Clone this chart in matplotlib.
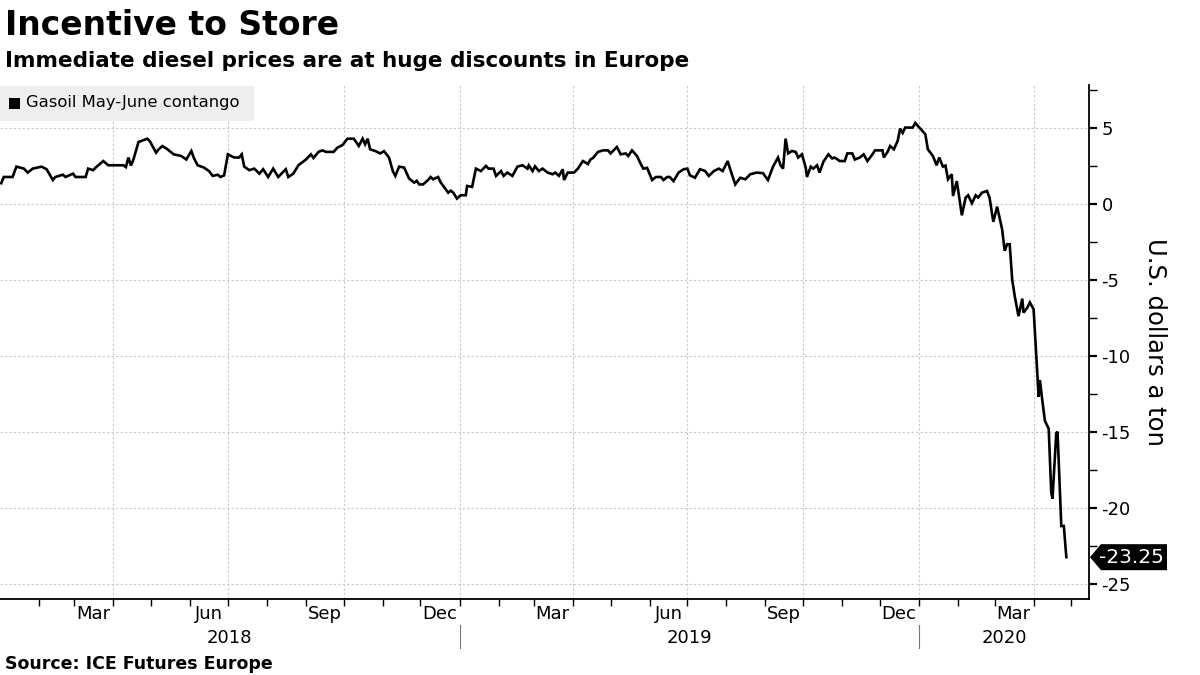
import numpy as np
import pandas as pd
import matplotlib
matplotlib.use("Agg")
import matplotlib.pyplot as plt
from matplotlib.patches import Rectangle, Polygon
from matplotlib.lines import Line2D

plt.rcParams["font.family"] = ["DejaVu Sans"]
plt.rcParams["axes.unicode_minus"] = False

# Gasoil May-June spread (days since 2018-01-01, $/ton)
start = pd.Timestamp("2018-01-01")
days = [1, 3, 10, 13, 19, 22, 26, 33, 37, 42, 44, 50, 52, 58, 60, 68, 70, 74, 76, 82,
        86, 98, 100, 102, 104, 106, 110, 117, 119, 124, 126, 129, 133, 138, 144, 148, 152, 154, 157, 162,
        166, 169, 173, 175, 178, 181, 186, 190, 192, 194, 198, 202, 206, 209, 213, 217, 221, 227, 229, 233,
        237, 243, 247, 249, 253, 256, 259, 265, 268, 272, 276, 281, 285, 288, 290, 292, 294, 298, 302, 305,
        309, 312, 314, 317, 321, 325, 329, 331, 333, 336, 340, 342, 344, 348, 350, 356, 358, 360, 363, 366,
        370, 371, 375, 378, 382, 386, 388, 392, 394, 398, 400, 403, 407, 411, 415, 419, 420, 423, 425, 428,
        431, 435, 439, 441, 444, 447, 448, 451, 456, 459, 463, 467, 469, 471, 475, 479, 483, 485, 490, 493,
        497, 499, 502, 506, 509, 511, 514, 518, 521, 525, 527, 530, 532, 535, 539, 543, 546, 548, 552, 556,
        560, 563, 567, 571, 574, 578, 580, 584, 588, 592, 596, 601, 606, 610, 614, 618, 620, 622, 624, 626,
        629, 632, 634, 637, 640, 641, 644, 646, 649, 651, 654, 658, 661, 663, 667, 671, 673, 677, 679, 683,
        686, 689, 693, 695, 701, 702, 705, 707, 710, 713, 715, 717, 719, 725, 727, 731, 735, 737, 741, 744,
        746, 749, 751, 753, 756, 757, 760, 764, 767, 769, 772, 775, 777, 780, 784, 786, 789, 792, 796, 798,
        800, 802, 804, 806, 809, 812, 813, 816, 818, 821, 823, 825, 826, 828, 830, 833, 835, 836, 839, 840,
        843, 845, 847]
values = [1.34, 1.75, 1.75, 2.43, 2.30, 2.04, 2.30, 2.43, 2.26, 1.55, 1.75, 1.90, 1.75, 1.97, 1.75, 1.75, 2.30, 2.20, 2.37, 2.80,
          2.52, 2.52, 2.40, 3.03, 2.50, 2.90, 4.05, 4.27, 4.10, 3.35, 3.57, 3.79, 3.57, 3.24, 3.13, 2.90, 3.46, 3.00, 2.52, 2.37,
          2.14, 1.82, 1.90, 1.75, 1.85, 3.24, 3.03, 3.03, 3.24, 2.43, 2.20, 2.30, 1.97, 2.26, 1.75, 2.30, 1.75, 2.26, 1.75, 1.97,
          2.52, 2.90, 3.24, 3.00, 3.40, 3.50, 3.40, 3.40, 3.68, 3.85, 4.27, 4.27, 3.79, 4.27, 3.90, 4.27, 3.57, 3.46, 3.30, 3.45,
          3.03, 2.14, 1.82, 2.43, 2.37, 1.64, 1.38, 1.50, 1.26, 1.26, 1.55, 1.75, 1.60, 1.75, 1.40, 0.72, 0.85, 0.72, 0.33, 0.55,
          0.55, 1.16, 1.10, 2.30, 2.14, 2.48, 2.30, 2.30, 1.82, 2.14, 1.82, 2.04, 1.82, 2.43, 2.52, 2.30, 2.52, 2.14, 2.45, 2.14,
          2.30, 2.04, 1.93, 2.04, 1.82, 2.26, 1.55, 2.04, 2.04, 2.30, 2.80, 2.60, 2.90, 3.00, 3.40, 3.50, 3.50, 3.30, 3.72, 3.24,
          3.30, 3.13, 3.50, 3.13, 2.60, 2.30, 2.35, 1.55, 1.75, 1.75, 1.55, 1.75, 1.75, 1.48, 2.04, 2.26, 2.30, 1.86, 1.70, 2.26,
          2.15, 1.82, 2.14, 2.30, 2.14, 2.80, 2.26, 1.26, 1.70, 1.60, 1.93, 2.04, 2.00, 1.55, 2.43, 3.03, 2.52, 2.30, 4.27, 3.30,
          3.46, 3.40, 3.03, 3.24, 2.37, 1.75, 2.43, 2.30, 2.52, 2.04, 2.75, 3.24, 2.97, 3.03, 2.80, 2.80, 3.30, 3.30, 2.90, 3.03,
          3.24, 2.80, 3.24, 3.50, 3.50, 3.03, 3.40, 3.79, 3.57, 4.12, 4.93, 4.65, 5.00, 5.00, 5.30, 4.93, 4.56, 3.57, 3.13, 2.52,
          3.03, 2.43, 2.50, 1.60, 1.93, 0.50, 1.48, -0.77, 0.39, 0.55, 0.02, 0.55, 0.40, 0.72, 0.83, 0.39, -1.20, -0.20, -1.69, -3.10,
          -2.67, -2.67, -5.00, -6.08, -7.40, -6.25, -7.17, -6.84, -6.50, -6.95, -9.80, -12.70, -11.60, -13.00, -14.30, -14.80, -19.00, -19.40, -15.10, -15.00,
          -21.20, -21.20, -23.25]

series_label = "Gasoil May-June contango"
month_labels = ["Mar", "Jun", "Sep", "Dec"]
years = [2018, 2019, 2020]

dates = start + pd.to_timedelta(days, unit="D")

fig = plt.figure(figsize=(12, 6.75), dpi=100)
ax = fig.add_axes([0.0, 0.1126, 0.9075, 0.7615])

ax.plot(dates, values, color="black", lw=1.9, solid_joinstyle="miter")

x0 = pd.Timestamp("2018-01-01")
x1 = pd.Timestamp("2020-05-15")
ax.set_xlim(x0, x1)
ax.set_ylim(-26, 7.8)

for s in ["left", "top"]:
    ax.spines[s].set_visible(False)
for s in ["right", "bottom"]:
    ax.spines[s].set_linewidth(1.3)

# y axis on the right
ax.yaxis.tick_right()
ax.set_yticks(np.arange(-25, 6, 5))
ax.set_yticks(np.arange(-22.5, 8, 5), minor=True)
ax.tick_params(axis="y", which="major", length=6, width=1.6, labelsize=13, pad=3)
ax.tick_params(axis="y", which="minor", length=6, width=1)
ax.yaxis.set_major_formatter(plt.FuncFormatter(lambda v, p: f"{v:.0f}"))
ax.grid(axis="y", color="#c8c8c8", lw=0.8, ls=(0, (2, 2)))
ax.set_ylabel("U.S. dollars a ton", rotation=-90, fontsize=17.5, va="center")
ax.yaxis.set_label_position("right")
ax.yaxis.set_label_coords(1.072, 0.5)

# x axis: month ticks, quarter grid, month/year labels
months = pd.date_range("2018-02-01", "2020-05-01", freq="MS")
ax.set_xticks(months)
ax.set_xticklabels([])
ax.tick_params(axis="x", which="major", length=5, width=1)
quarters = pd.date_range("2018-04-01", "2020-04-01", freq="QS")
for q in quarters:
    ax.axvline(q, color="#c8c8c8", lw=0.8, ls=(0, (2, 2)), zorder=0)

mid_months = [m + pd.Timedelta(days=15) for m in pd.date_range("2018-03-01", "2020-03-01", freq="MS")
              if m.strftime("%b") in month_labels]
ax.set_xticks(mid_months, minor=True)
ax.set_xticklabels([m.strftime("%b") for m in mid_months], minor=True)
ax.tick_params(axis="x", which="minor", length=0, labelsize=13, pad=4)

trans = ax.get_xaxis_transform()
for y in years:
    a = max(pd.Timestamp(f"{y}-01-01"), x0)
    b = min(pd.Timestamp(f"{y + 1}-01-01"), x1)
    mid = a + (b - a) / 2
    ax.text(mid, -0.075, str(y), transform=trans, ha="center", va="center", fontsize=13)
    if y > years[0]:
        ax.add_line(Line2D([a, a], [-0.05, -0.096], transform=trans, color="#777777",
                           lw=0.8, clip_on=False))

# last value tag
last = values[-1]
ytrans = ax.get_yaxis_transform()
px = 1 / 1089.0
h = 13 / 15.2
tag = Polygon([(1 + 1 * px, last), (1 + 12 * px, last + h), (1 + 78 * px, last + h),
               (1 + 78 * px, last - h), (1 + 12 * px, last - h)],
              closed=True, transform=ytrans, facecolor="black", edgecolor="none", clip_on=False)
ax.add_patch(tag)
ax.text(1 + 42 * px, last, f"{last:.2f}", transform=ytrans, color="white", fontsize=14.5,
        ha="center", va="center")

# legend box
fig.patches.append(Rectangle((0.0, 1 - 121 / 675), 254 / 1200, 35 / 675, transform=fig.transFigure,
                             facecolor="#eeeeee", edgecolor="none"))
fig.patches.append(Rectangle((9 / 1200, 1 - 109 / 675), 11 / 1200, 11 / 675, transform=fig.transFigure,
                             facecolor="black", edgecolor="none"))
fig.text(26 / 1200, 1 - 103 / 675, series_label, fontsize=11.8, va="center", ha="left")

# titles and source
fig.text(0.004, 1 - 35 / 675, "Incentive to Store", fontsize=23.8, weight="bold", va="baseline")
fig.text(0.004, 1 - 67 / 675, "Immediate diesel prices are at huge discounts in Europe",
         fontsize=15.5, weight="bold", va="baseline")
fig.text(0.004, 1 - 669 / 675, "Source: ICE Futures Europe", fontsize=12.5, weight="bold", va="baseline")

fig.savefig("out.png", dpi=100)
